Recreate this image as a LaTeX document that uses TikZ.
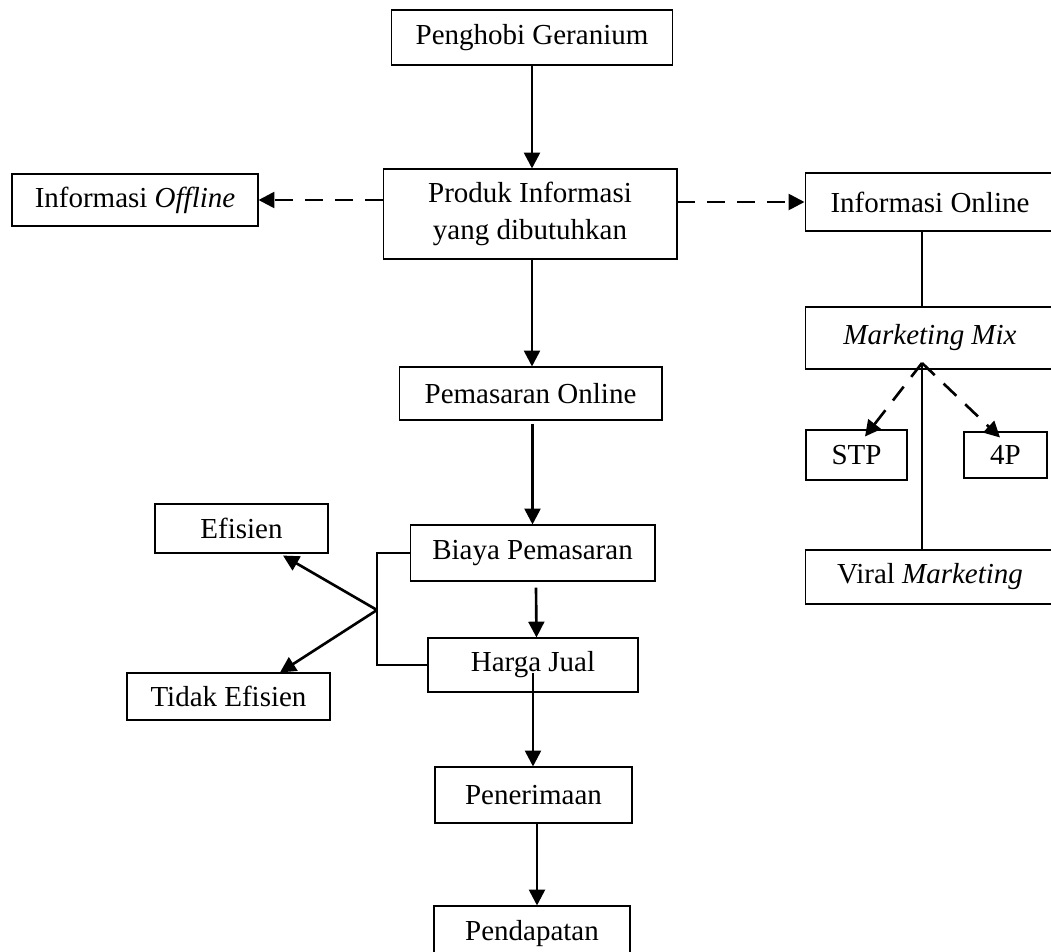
\documentclass[tikz,border=0pt]{standalone}
\usepackage{fontspec}
\setmainfont{Liberation Serif}
\usetikzlibrary{arrows.meta}
\begin{document}
\begin{tikzpicture}[x=0.02cm, y=-0.02cm, >={Triangle[length=9pt,width=9pt]},
        kotak/.style={draw, line width=0.6pt, inner sep=2pt, align=center, font=\fontsize{16.5}{21}\selectfont},
        panah/.style={->, line width=1.5pt},
        putus/.style={->, line width=1.5pt, dash pattern=on 10pt off 7pt}]
        \useasboundingbox (0,0) rectangle (1051,951);
        \clip (0,0) rectangle (1051,951);

        % alur utama
        \node[kotak, minimum width=5.62cm, minimum height=1.1cm] (penghobi) at (532,37.5) {Penghobi Geranium};
        \node[kotak, minimum width=5.88cm, minimum height=1.8cm] (produk) at (530,214) {Produk Informasi\\yang dibutuhkan};
        \node[kotak, minimum width=5.26cm, minimum height=1.06cm] (pemasaran) at (530.5,393.5) {Pemasaran Online};
        \node[kotak, minimum width=4.9cm, minimum height=1.12cm] (biaya) at (532.5,553) {Biaya Pemasaran};
        \node[kotak, minimum width=4.2cm, minimum height=1.08cm] (harga) at (533,665) {Harga Jual};
        \node[kotak, minimum width=3.94cm, minimum height=1.12cm] (penerimaan) at (533.5,795) {Penerimaan};
        \node[kotak, minimum width=3.92cm, minimum height=1.12cm] (pendapatan) at (532,934) {Pendapatan};

        % cabang kiri
        \node[kotak, minimum width=4.92cm, minimum height=1.04cm] (offline) at (135,200) {Informasi \textit{Offline}};
        \node[kotak, minimum width=3.46cm, minimum height=0.98cm] (efisien) at (241.5,528.5) {Efisien};
        \node[kotak, minimum width=4.06cm, minimum height=0.94cm] (tidak) at (228.5,696.5) {Tidak Efisien};

        % cabang kanan
        \node[kotak, minimum width=5cm, minimum height=1.16cm] (online) at (930,202) {Informasi Online};
        \node[kotak, minimum width=5cm, minimum height=1.24cm] (mix) at (930,338) {\textit{Marketing Mix}};
        \node[kotak, minimum width=2.02cm, minimum height=1cm] (stp) at (856.5,455) {STP};
        \node[kotak, minimum width=1.66cm, minimum height=0.92cm] (empatp) at (1005.5,455) {4P};
        \node[kotak, minimum width=5cm, minimum height=1.08cm] (viral) at (930,577) {Viral \textit{Marketing}};

        \coordinate (cabang) at (922,363);
        \coordinate (simpul) at (377,610);

        % panah utama
        \draw[panah] (penghobi.south) -- (penghobi.south |- produk.north);
        \draw[panah] ([yshift=0.04cm]penghobi.south |- produk.south) -- (penghobi.south |- pemasaran.north);
        \draw[panah] ([yshift=-0.06cm]biaya.north |- pemasaran.south) -- (biaya.north);
        \draw[panah] ([xshift=0.07cm,yshift=-0.12cm]biaya.south) -- ([xshift=0.07cm]harga.north);
        \draw[panah] ([yshift=-0.16cm]harga.center) -- (harga.center |- penerimaan.north);
        \draw[panah] ([xshift=0.07cm]penerimaan.south) -- ([xshift=0.07cm]penerimaan.south |- pendapatan.north);

        % informasi offline / online
        \draw[putus] (offline.east -| produk.west) -- (offline.east);
        \draw[putus] (online.west -| produk.east) -- (online.west);
        \draw[line width=1.5pt] ([xshift=-0.16cm]online.south) -- ([xshift=-0.16cm]mix.north);
        \draw[line width=1.5pt] (cabang) -- (cabang |- viral.north);
        \draw[putus] (cabang) -- ([xshift=0.17cm,yshift=-0.14cm]stp.north);
        \draw[putus] (cabang) -- ([xshift=-0.11cm,yshift=-0.12cm]empatp.north);

        % efisiensi
        \draw[line width=0.6pt] (biaya.west) -| (simpul) |- (harga.west);
        \draw[panah] (simpul) -- ([xshift=0.83cm,yshift=-0.04cm]efisien.south);
        \draw[panah] (simpul) -- ([xshift=1.03cm]tidak.north);
\end{tikzpicture}
\end{document}
